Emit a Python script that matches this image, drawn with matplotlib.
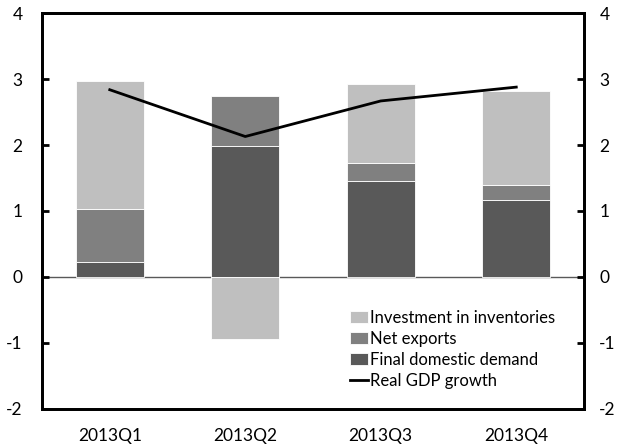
import matplotlib
matplotlib.use("Agg")
import matplotlib.pyplot as plt
import numpy as np

quarters = ["2013Q1", "2013Q2", "2013Q3", "2013Q4"]
final_domestic = [0.23, 1.98, 1.45, 1.16]
net_exports = [0.80, 0.77, 0.28, 0.23]
inventories = [1.95, -0.94, 1.19, 1.43]
gdp_growth = [2.84, 2.13, 2.67, 2.88]

LIGHT = "#bfbfbf"
MID = "#808080"
DARK = "#595959"

plt.rcParams["font.family"] = ["Lato", "DejaVu Sans"]
plt.rcParams["axes.unicode_minus"] = False

fig = plt.figure(figsize=(6.18, 4.45), dpi=100)
ax = fig.add_axes([0.068, 0.082, 0.877, 0.888])

x = np.arange(len(quarters))
w = 0.5
fdd = np.array(final_domestic)
nx = np.array(net_exports)
inv = np.array(inventories)

ax.bar(x, fdd, w, color=DARK, edgecolor="white", linewidth=0.6, label="Final domestic demand", zorder=2)
ax.bar(x, nx, w, bottom=fdd, color=MID, edgecolor="white", linewidth=0.6, label="Net exports", zorder=2)
# positive inventory stacks on top, negative hangs below zero
inv_bottom = np.where(inv >= 0, fdd + nx, 0)
ax.bar(x, inv, w, bottom=inv_bottom, color=LIGHT, edgecolor="white", linewidth=0.6,
       label="Investment in inventories", zorder=2)
ax.plot(x, gdp_growth, color="black", linewidth=2, label="Real GDP growth", zorder=3)

ax.axhline(0, color=DARK, linewidth=1, zorder=1)

ax.set_xlim(-0.5, 3.5)
ax.set_ylim(-2, 4)
ax.set_yticks(range(-2, 5))
ax.set_xticks(x)
ax.set_xticklabels(quarters)
ax.tick_params(axis="x", length=0, pad=14, labelsize=12.5)
ax.tick_params(axis="y", direction="in", length=5, width=2, pad=14, labelsize=12.5)
for s in ax.spines.values():
    s.set_linewidth(2)

ax2 = ax.twinx()
ax2.set_ylim(-2, 4)
ax2.set_yticks(range(-2, 5))
ax2.tick_params(axis="y", direction="in", length=5, width=2, pad=11, labelsize=12.5)
for s in ax2.spines.values():
    s.set_linewidth(2)

pairs = dict(zip(*ax.get_legend_handles_labels()[::-1]))
names = ["Investment in inventories", "Net exports", "Final domestic demand", "Real GDP growth"]
ax.legend([pairs[n] for n in names], names, loc="lower left", bbox_to_anchor=(0.568, 0.05),
          frameon=False, fontsize=12, handlelength=1.1, handleheight=0.7, handletextpad=0.1,
          labelspacing=0.3, borderaxespad=0, borderpad=0)

fig.savefig("out.png", dpi=100, facecolor="white")
